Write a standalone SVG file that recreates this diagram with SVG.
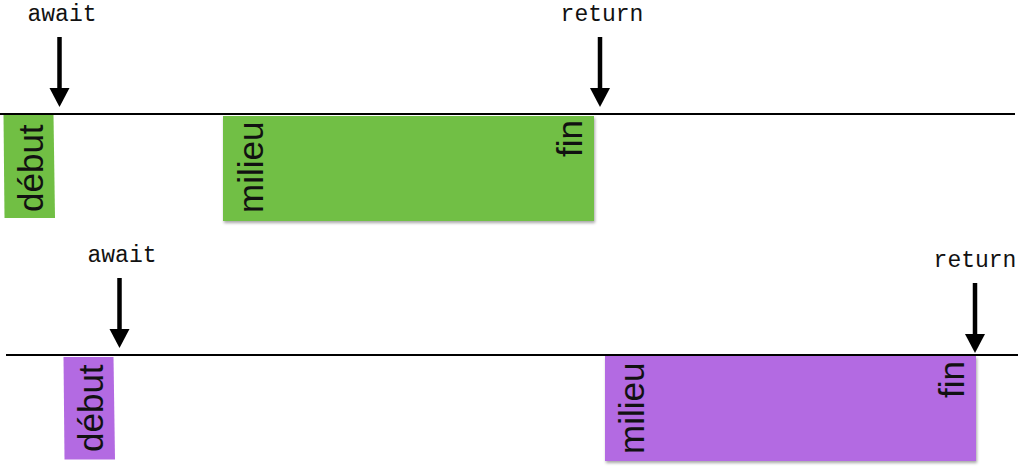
<svg xmlns="http://www.w3.org/2000/svg" width="1024" height="470" viewBox="0 0 1024 470">
<style>
.kw{font-family:"Liberation Mono","Courier New",monospace;font-size:23px;fill:#111;text-anchor:middle}
.lbl{font-family:"Liberation Sans",Arial,sans-serif;font-size:35px;fill:#111}
.axis{stroke:#000;stroke-width:2;fill:none}
.arr{stroke:#000;stroke-width:4.5;fill:none}
.head{fill:#000}
.green{fill:#71BF44}
.purple{fill:#B36AE2}
</style>
<defs>
<filter id="sh" x="-5%" y="-10%" width="110%" height="125%">
<feDropShadow dx="1" dy="2" stdDeviation="1.5" flood-color="#000" flood-opacity="0.35"/>
</filter>
</defs>
<rect width="1024" height="470" fill="#fff"/>
<g id="nodes">
<g id="debut1">
<polygon class="green" points="3.5,115 53.5,115 55,218 4.5,218"/>
<text class="lbl" transform="translate(43,212) rotate(-90)">début</text>
</g>
<g id="milieu1">
<rect class="green" x="223" y="116" width="371" height="105" filter="url(#sh)"/>
<text class="lbl" transform="translate(263,213) rotate(-90)">milieu</text>
<text class="lbl" transform="translate(582,157) rotate(-90)">fin</text>
</g>
<g id="debut2">
<polygon class="purple" points="63.5,357 113.5,357 115,459.5 64.5,459.5"/>
<text class="lbl" transform="translate(103,452) rotate(-90)">début</text>
</g>
<g id="milieu2">
<rect class="purple" x="605" y="356" width="371" height="105" filter="url(#sh)"/>
<text class="lbl" transform="translate(644,454) rotate(-90)">milieu</text>
<text class="lbl" transform="translate(964,398) rotate(-90)">fin</text>
</g>
<g id="labels">
<text class="kw" x="62" y="21">await</text>
<text class="kw" x="602" y="21">return</text>
<text class="kw" x="122" y="262">await</text>
<text class="kw" x="975" y="267">return</text>
</g>
</g>
<g id="connectors">
<line class="axis" x1="0" y1="114" x2="1015" y2="114"/>
<line class="axis" x1="6" y1="355" x2="1018" y2="355"/>
<line class="arr" x1="59.5" y1="37" x2="59.5" y2="90"/>
<polygon class="head" points="49.5,88 69.5,88 59.5,107"/>
<line class="arr" x1="600" y1="37" x2="600" y2="90"/>
<polygon class="head" points="590,88 610,88 600,107"/>
<line class="arr" x1="119.5" y1="278" x2="119.5" y2="331"/>
<polygon class="head" points="109.5,329 129.5,329 119.5,348"/>
<line class="arr" x1="975" y1="283" x2="975" y2="336"/>
<polygon class="head" points="965,334 985,334 975,353"/>
</g>
</svg>
